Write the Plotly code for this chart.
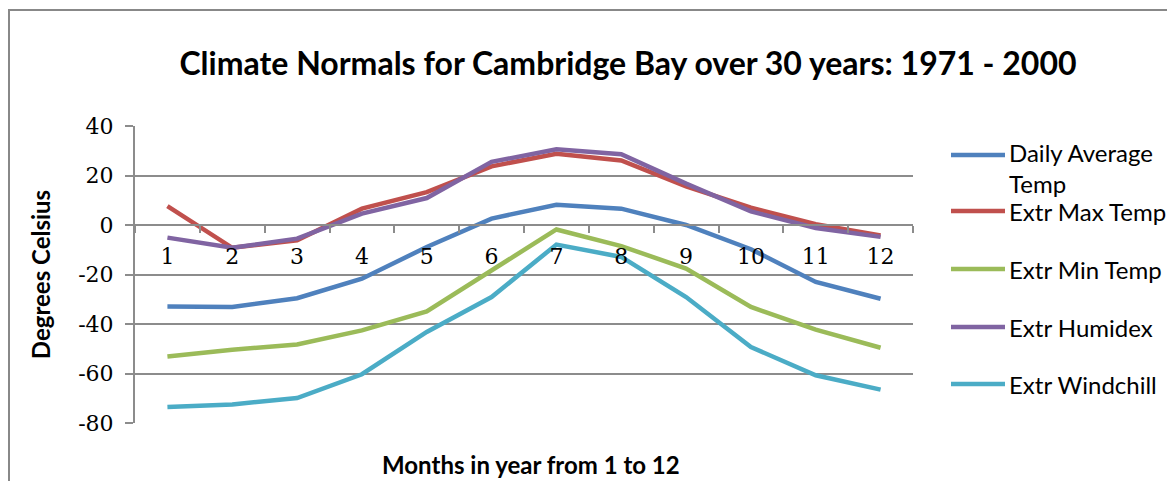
import plotly.graph_objects as go

months = ['1', '2', '3', '4', '5', '6', '7', '8', '9', '10', '11', '12']
daily_avg = [-32.9, -33.1, -29.6, -21.7, -8.9, 2.6, 8.2, 6.6, 0.0, -9.8, -23.0, -29.8]
extr_max = [7.6, -9.2, -6.2, 6.6, 13.3, 23.7, 28.8, 26.1, 15.6, 7.0, 0.3, -4.2]
extr_min = [-53.1, -50.4, -48.3, -42.6, -34.9, -18.3, -1.8, -8.5, -17.6, -33.1, -42.3, -49.6]
extr_humidex = [-5.1, -9.2, -5.5, 4.6, 10.9, 25.5, 30.6, 28.6, 16.7, 5.5, -1.2, -4.8]
extr_windchill = [-73.5, -72.5, -69.9, -60.3, -43.2, -29.1, -7.9, -12.9, -29.1, -49.3, -60.7, -66.5]

series_names = ['Daily Average<br>Temp', 'Extr Max Temp', 'Extr Min Temp', 'Extr Humidex', 'Extr Windchill']
series_values = [daily_avg, extr_max, extr_min, extr_humidex, extr_windchill]
colors = ['#4F81BD', '#C0504D', '#9BBB59', '#8064A2', '#4BACC6']
y_ticks = [40, 20, 0, -20, -40, -60, -80]
y_ticktext = [str(v) for v in y_ticks]  # plain hyphen like Excel

# window is 1175x489; the page body has an 8px margin
W, H = 1175, 489
OFF = 8
FW, FH = W - 2 * OFF, H - 2 * OFF
# plot area in window pixels
L, R, T, B = 135, 913, 126, 423


def px_x(px):
    return (px - L) / (R - L)


def px_y(py):
    return (B - py) / (B - T)


grid = '#8C8C8C'
sans = 'Lato'
serif = 'DejaVu Serif, serif'

fig = go.Figure()
for name, vals, col in zip(series_names, series_values, colors):
    fig.add_trace(go.Scatter(
        x=months, y=vals, mode='lines', name=name,
        line=dict(color=col, width=4.5), showlegend=False,
    ))

# legend drawn by hand (Excel-like spacing)
legend_size = 24
legend_y = [155, 211, 269, 327, 384]
text_shift = [-3, 0, 0, 0, 0]
for name, col, ly, dy in zip(series_names, colors, legend_y, text_shift):
    fig.add_shape(type='line', xref='paper', yref='paper',
                  x0=px_x(951), x1=px_x(1005), y0=px_y(ly), y1=px_y(ly),
                  line=dict(color=col, width=4.5))
    fig.add_annotation(text=name, xref='paper', yref='paper',
                       x=px_x(1007), y=px_y(ly + dy - 0.66 * legend_size),
                       xanchor='left', yanchor='top',
                       showarrow=False, align='left',
                       font=dict(family=sans, size=legend_size, color='black'))

# outer chart frame
fig.add_shape(type='rect', xref='paper', yref='paper',
              x0=px_x(9), x1=px_x(1220), y0=px_y(540), y1=px_y(10),
              line=dict(color='#888888', width=2))

fig.add_annotation(text='<b>Months in year from 1 to 12</b>', xref='paper', yref='paper',
                   x=px_x(531), y=px_y(464), xanchor='center', yanchor='middle',
                   showarrow=False,
                   font=dict(family=sans, size=24, color='black'))

fig.update_layout(
    width=FW, height=FH,
    margin=dict(l=L - OFF, r=OFF + FW - R, t=T - OFF, b=OFF + FH - B),
    plot_bgcolor='white',
    paper_bgcolor='white',
    title=dict(text='<b>Climate Normals for Cambridge Bay over 30 years: 1971 - 2000</b>',
               xref='container', yref='container',
               x=(628 - OFF) / FW, y=1 - (64 - OFF) / FH,
               xanchor='center', yanchor='middle',
               font=dict(family=sans, size=32, color='black')),
    xaxis=dict(
        type='category', range=[-0.5, 11.5],
        anchor='free', position=80 / 120,
        showline=True, linecolor=grid, linewidth=2,
        showgrid=False, zeroline=False,
        ticks='outside', tickson='boundaries', ticklen=7, tickcolor=grid, tickwidth=2,
        ticklabelstandoff=12,
        tickfont=dict(family=serif, size=22, color='black'),
    ),
    yaxis=dict(
        range=[-80, 40], tickvals=y_ticks, ticktext=y_ticktext,
        showline=True, linecolor=grid, linewidth=2,
        showgrid=True, gridcolor=grid, gridwidth=2,
        zeroline=False,
        ticks='outside', ticklen=8, tickcolor=grid, tickwidth=2,
        ticklabelstandoff=7,
        tickfont=dict(family=serif, size=22, color='black'),
        title=dict(text='<b>Degrees Celsius</b>', standoff=21,
                   font=dict(family=sans, size=24, color='black')),
    ),
)

fig.write_html('out.html')
